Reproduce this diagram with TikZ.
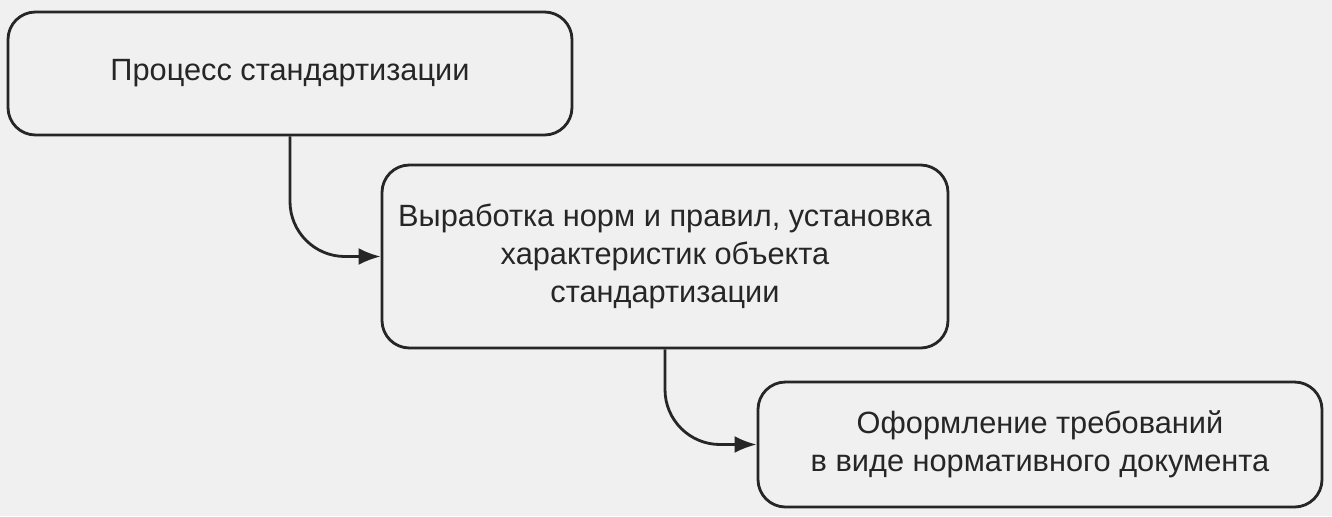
\documentclass[tikz,border=0pt]{standalone}
\usepackage{fontspec}
\setmainfont{Liberation Sans}
\usetikzlibrary{arrows.meta,positioning}

\tikzset{
  stagebox/.style={draw=black!85, line width=1.6pt, rounded corners=0.55cm,
    align=center, inner sep=0pt, text=black!85,
    font=\fontsize{17.5pt}{21.5pt}\selectfont},
  flow/.style={draw=black!85, line width=1.6pt, rounded corners=1.1cm,
    -{Latex[length=4.4mm,width=3.4mm]}}
}

\begin{document}
\begin{tikzpicture}
\fill[black!6] (0,0) rectangle (26.64,-10.32);
\useasboundingbox (0,0) rectangle (26.64,-10.32);

\node[stagebox, minimum width=11.28cm, minimum height=2.46cm] (process) at (5.8,-1.47) {Процесс стандартизации};
\node[stagebox, minimum width=11.32cm, minimum height=3.66cm] (norms) at (13.3,-5.13) {Выработка норм и правил, установка\\характеристик объекта\\стандартизации};
\node[stagebox, minimum width=11.28cm, minimum height=2.5cm] (document) at (20.8,-8.89) {Оформление требований\\в виде нормативного документа};

\draw[flow] (process.south) |- (norms.west);
\draw[flow] (norms.south) |- (document.west);
\end{tikzpicture}
\end{document}
